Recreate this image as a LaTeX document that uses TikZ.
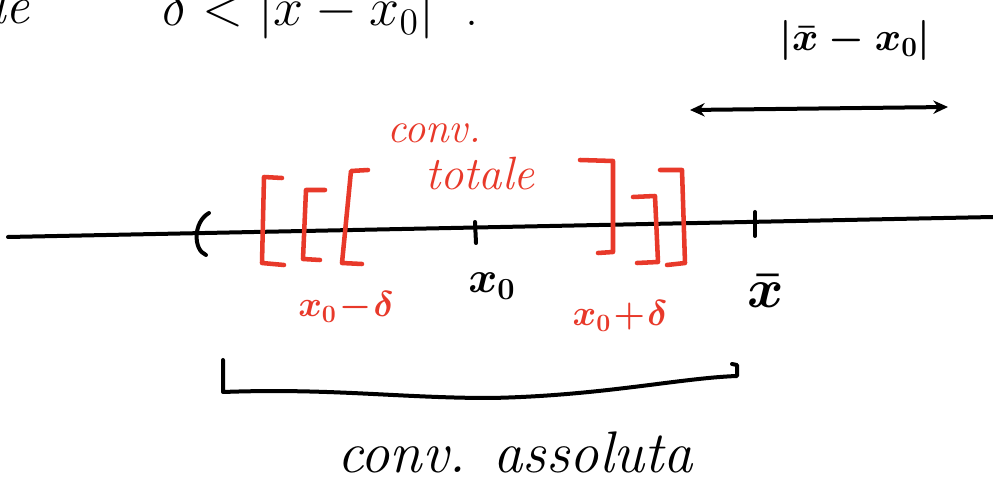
\documentclass[tikz,border=0pt]{standalone}
\usepackage{graphicx}
\usetikzlibrary{arrows.meta}
\definecolor{pen}{HTML}{E8392A}
\tikzset{
  ink/.style={line width=3pt, line cap=round, line join=round, black},
  redink/.style={line width=3.4pt, line cap=round, line join=round, pen},
  lbl/.style={inner sep=0pt, font=\fontsize{20}{24}\selectfont\boldmath},
  big/.style={inner sep=0pt, font=\fontsize{36}{40}\selectfont\itshape},
}
\begin{document}
\begin{tikzpicture}[x=0.75pt,y=-0.75pt]
\useasboundingbox (0,0) rectangle (993,484);
\clip (0,0) rectangle (993,484);
% top cropped text
\node[big, anchor=base west, font=\fontsize{40}{44}\selectfont\itshape] (le) at (-8,24) {le};
\node[anchor=base west, inner sep=0pt, font=\fontsize{20}{24}\selectfont] (ineq) at (162,26) {\scalebox{1.95}{$\delta < |\bar{x} - x_0|$ \ .}};
% distance label and arrow
\node[lbl] (dist) at (855,40) {\scalebox{1.45}{$|\bar{x} - x_0|$}};
\coordinate (aL) at (690,110);
\coordinate (aR) at (948,107);
\draw[ink, {Stealth[length=11pt,width=10pt]}-{Stealth[length=11pt,width=10pt]}] (aL) -- (aR);
% axis
\coordinate (axL) at (8,237);
\coordinate (axR) at (993,217);
\draw[ink] (axL) -- (axR);
% open paren
\draw[ink] (209,213) .. controls (193,222) and (193,250) .. (206,255);
% ticks
\coordinate (t0a) at (475,222); \coordinate (t0b) at (476,243);
\draw[ink] (t0a) -- (t0b);
\coordinate (t1a) at (755,212); \coordinate (t1b) at (755,236);
\draw[ink] (t1a) -- (t1b);
% red brackets left
\draw[redink] (282,178) -- (264,177) -- (262,263) -- (284,265);
\draw[redink] (325,190) -- (306,190) -- (303,259) -- (320,260);
\draw[redink] (368,170) -- (351,171) -- (342,263) -- (362,264);
% red brackets right
\draw[redink] (580,160) -- (613,161) -- (613,252) -- (598,253);
\draw[redink] (633,197) -- (655,196) -- (658,262) -- (637,263);
\draw[redink] (660,170) -- (682,170) -- (685,263) -- (667,265);
% red text
\node[big, pen, font=\fontsize{32}{34}\selectfont\itshape] (conv1) at (434,133) {conv.};
\node[big, pen, font=\fontsize{35}{38}\selectfont\itshape] (tot) at (480,174) {totale};
% axis labels
\node[lbl, pen] (xmd) at (346,307) {\scalebox{1.3}{$x_0\!-\!\delta$}};
\node[lbl] (x0) at (492,286) {\scalebox{1.6}{$x_0$}};
\node[lbl, pen] (xpd) at (620,316) {\scalebox{1.3}{$x_0\!+\!\delta$}};
\node[lbl] (xb) at (766,291) {\scalebox{2}{$\bar{x}$}};
% bottom bracket
\draw[ink] (223,360) -- (223,392) .. controls (330,388) and (400,398) .. (490,398) .. controls (600,396) and (680,378) .. (737,376) -- (737,365) -- (732,364);
% bottom text
\node[big, font=\fontsize{44}{48}\selectfont\itshape] (abs) at (515,452) {conv. assoluta};
\end{tikzpicture}
\end{document}
